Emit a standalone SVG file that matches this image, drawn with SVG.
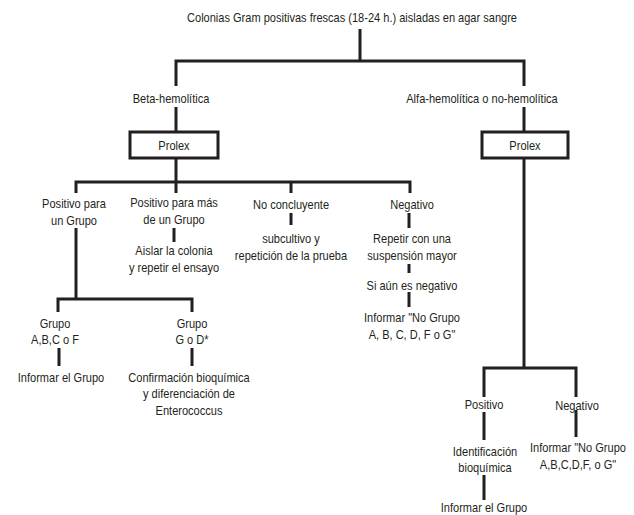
<svg xmlns="http://www.w3.org/2000/svg" width="634" height="515" viewBox="0 0 634 515">
<style>
text{font-family:"Liberation Sans",Arial,sans-serif;font-size:13px;fill:#231f20;text-anchor:middle}
.c{fill:none;stroke:#231f20;stroke-width:3}
.box{fill:#fff;stroke:#231f20;stroke-width:3}
</style>
<rect width="634" height="515" fill="#fff"/>
<g id="connectors" class="c">
<path d="M360,29V61"/>
<path d="M176,86V61H524V86"/>
<path d="M176,107V132M524,107V132"/>
<path d="M76,193V182H410V193M176,158V193M291,182V193"/>
<path d="M76,228V299"/>
<path d="M58,312V299H192V312"/>
<path d="M174,228V242"/>
<path d="M291,213V225"/>
<path d="M409,213V228M409,264V273M409,292V307"/>
<path d="M59,348V366M192,348V366"/>
<path d="M524,158V368"/>
<path d="M484,397V368H576V397"/>
<path d="M484,412V440M484,475V500"/>
<path d="M576,410V437"/>
</g>
<g id="n-title"><text transform="translate(352,21.5) scale(0.85,1)">Colonias Gram positivas frescas (18-24 h.) aisladas en agar sangre</text></g>
<g id="n-beta"><text transform="translate(171,102.5) scale(0.85,1)">Beta-hemolítica</text></g>
<g id="n-alfa"><text transform="translate(482,102.5) scale(0.85,1)">Alfa-hemolítica o no-hemolítica</text></g>
<g id="n-prolex1"><rect class="box" x="130" y="132" width="88" height="26"/><text transform="translate(174,149.5) scale(0.85,1)">Prolex</text></g>
<g id="n-prolex2"><rect class="box" x="482" y="132" width="86" height="26"/><text transform="translate(525,149.5) scale(0.85,1)">Prolex</text></g>
<g id="n-pos1"><text transform="translate(74,207.5) scale(0.85,1)">Positivo para</text><text transform="translate(74,224.5) scale(0.85,1)">un Grupo</text></g>
<g id="n-posmas"><text transform="translate(174,206.5) scale(0.85,1)">Positivo para más</text><text transform="translate(174,223.5) scale(0.85,1)">de un Grupo</text></g>
<g id="n-aislar"><text transform="translate(174,254.5) scale(0.85,1)">Aislar la colonia</text><text transform="translate(174,271.5) scale(0.85,1)">y repetir el ensayo</text></g>
<g id="n-nocon"><text transform="translate(291,208.5) scale(0.85,1)">No concluyente</text></g>
<g id="n-subcult"><text transform="translate(291,242.5) scale(0.85,1)">subcultivo y</text><text transform="translate(291,259.5) scale(0.85,1)">repetición de la prueba</text></g>
<g id="n-neg1"><text transform="translate(412,208.5) scale(0.85,1)">Negativo</text></g>
<g id="n-repetir"><text transform="translate(412,242.5) scale(0.85,1)">Repetir con una</text><text transform="translate(412,259.5) scale(0.85,1)">suspensión mayor</text></g>
<g id="n-siaun"><text transform="translate(412,289.5) scale(0.85,1)">Si aún es negativo</text></g>
<g id="n-inf1"><text transform="translate(412,321.5) scale(0.85,1)">Informar "No Grupo</text><text transform="translate(412,338.5) scale(0.85,1)">A, B, C, D, F o G"</text></g>
<g id="n-grupoA"><text transform="translate(55,327.5) scale(0.85,1)">Grupo</text><text transform="translate(55,344) scale(0.85,1)">A,B,C o F</text></g>
<g id="n-grupoG"><text transform="translate(192,327.5) scale(0.85,1)">Grupo</text><text transform="translate(192,344) scale(0.85,1)">G o D*</text></g>
<g id="n-infgrupo1"><text transform="translate(61,381.5) scale(0.85,1)">Informar el Grupo</text></g>
<g id="n-confirm"><text transform="translate(189,381.5) scale(0.85,1)">Confirmación bioquímica</text><text transform="translate(189,398) scale(0.85,1)">y diferenciación de</text><text transform="translate(189,414.5) scale(0.85,1)">Enterococcus</text></g>
<g id="n-pos2"><text transform="translate(484,408.5) scale(0.85,1)">Positivo</text></g>
<g id="n-ident"><text transform="translate(485,455.5) scale(0.85,1)">Identificación</text><text transform="translate(485,471.5) scale(0.85,1)">bioquímica</text></g>
<g id="n-infgrupo2"><text transform="translate(484,512) scale(0.85,1)">Informar el Grupo</text></g>
<g id="n-neg2"><text transform="translate(577,409.5) scale(0.85,1)">Negativo</text></g>
<g id="n-inf2"><text transform="translate(578,451.5) scale(0.85,1)">Informar "No Grupo</text><text transform="translate(578,468.5) scale(0.85,1)">A,B,C,D,F, o G"</text></g>
</svg>
